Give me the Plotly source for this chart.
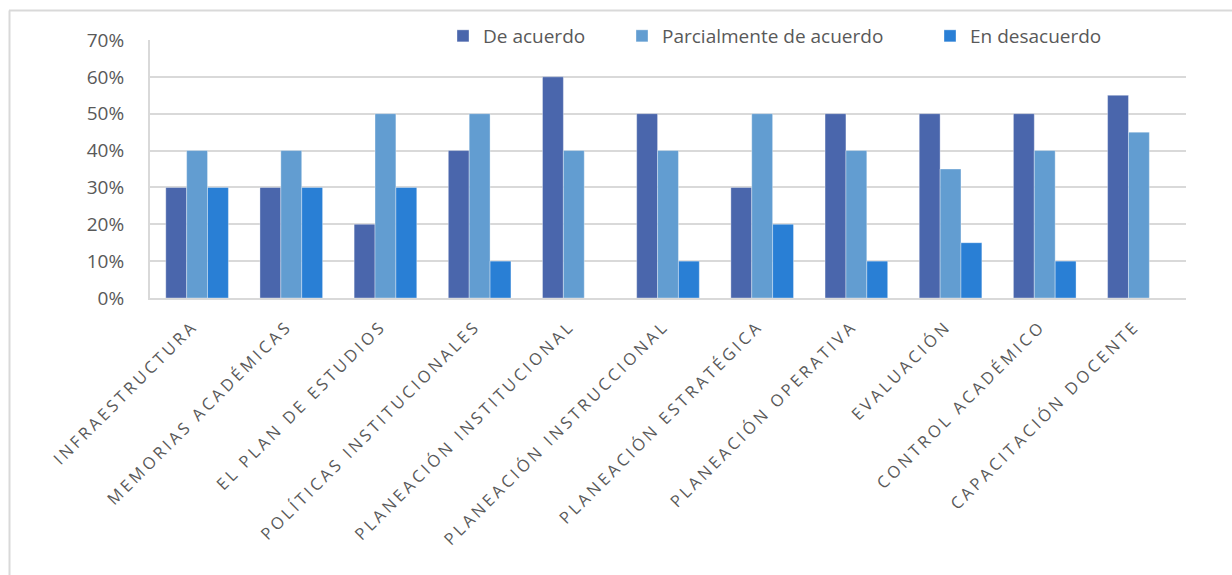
import plotly.graph_objects as go

categories = [
    "INFRAESTRUCTURA", "MEMORIAS ACADÉMICAS", "EL PLAN DE ESTUDIOS",
    "POLÍTICAS INSTITUCIONALES", "PLANEACIÓN INSTITUCIONAL",
    "PLANEACIÓN INSTRUCCIONAL", "PLANEACIÓN ESTRATÉGICA",
    "PLANEACIÓN OPERATIVA", "EVALUACIÓN", "CONTROL ACADÉMICO",
    "CAPACITACIÓN DOCENTE",
]
de_acuerdo = [0.30, 0.30, 0.20, 0.40, 0.60, 0.50, 0.30, 0.50, 0.50, 0.50, 0.55]
parcialmente = [0.40, 0.40, 0.50, 0.50, 0.40, 0.40, 0.50, 0.40, 0.35, 0.40, 0.45]
desacuerdo = [0.30, 0.30, 0.30, 0.10, 0.00, 0.10, 0.20, 0.10, 0.15, 0.10, 0.00]

series_names = ["De acuerdo", "Parcialmente de acuerdo", "En desacuerdo"]
series_values = [de_acuerdo, parcialmente, desacuerdo]
colors = ["#4A66AC", "#629DD1", "#297FD5"]
legend_ids = ["legend", "legend2", "legend3"]

W, H = 1232, 575
L, R, T, B = 150, 46, 40, 277
pw, ph = W - L - R, H - T - B

def px_x(p):
    return (p - L) / pw

def px_y(p):
    return (H - B - p) / ph

fig = go.Figure()
for name, vals, col, lg in zip(series_names, series_values, colors, legend_ids):
    fig.add_trace(go.Bar(
        x=categories, y=vals, name=name, legend=lg,
        marker=dict(color=col, line=dict(color="rgba(255,255,255,0.35)", width=1)),
    ))

font_family = "Open Sans"
legend_common = dict(orientation="h", yanchor="middle", xanchor="left",
                     bgcolor="rgba(0,0,0,0)",
                     font=dict(family=font_family, size=19, color="#595959"))
leg_px = [461, 640, 948]
layout_legends = {}
for lg, p in zip(legend_ids, leg_px):
    layout_legends[lg] = dict(legend_common, x=px_x(p - 18), y=px_y(36))

fig.update_layout(
    width=W, height=H,
    margin=dict(l=L, r=R, t=T, b=B, autoexpand=False),
    paper_bgcolor="white", plot_bgcolor="white",
    barmode="group", bargap=0.335, bargroupgap=0,
    font=dict(family=font_family, color="#595959"),
    showlegend=True,
    **layout_legends,
    xaxis=dict(
        type="category", tickangle=-45, showgrid=False,
        showline=True, linecolor="#d9d9d9", linewidth=2,
        ticks="", ticklabelstandoff=10, ticklabelshift=-4,
        tickfont=dict(family=font_family, size=16.5, color="#595959"),
    ),
    yaxis=dict(
        range=[0, 0.7], dtick=0.1, tickformat=".0%",
        showgrid=True, gridcolor="#d9d9d9", gridwidth=1.5,
        showline=True, linecolor="#d9d9d9", linewidth=2,
        zeroline=False, ticks="", ticklabelstandoff=20,
        tickfont=dict(family=font_family, size=19, color="#595959"),
    ),
    shapes=[
        dict(type="line", xref="paper", yref="paper",
             x0=px_x(9.5), x1=px_x(9.5), y0=px_y(10.5), y1=px_y(580),
             line=dict(color="#d9d9d9", width=2)),
        dict(type="line", xref="paper", yref="paper",
             x0=px_x(9), x1=px_x(1240), y0=px_y(10.5), y1=px_y(10.5),
             line=dict(color="#d9d9d9", width=2)),
    ],
)

post = """
var gd = document.getElementById('{plot_id}');
function spaceTicks() {
  gd.querySelectorAll('.xtick text').forEach(function (t) {
    t.style.letterSpacing = '3.2px';
  });
}
spaceTicks();
gd.on('plotly_afterplot', spaceTicks);
"""

fig.write_html("out.html", post_script=post)
